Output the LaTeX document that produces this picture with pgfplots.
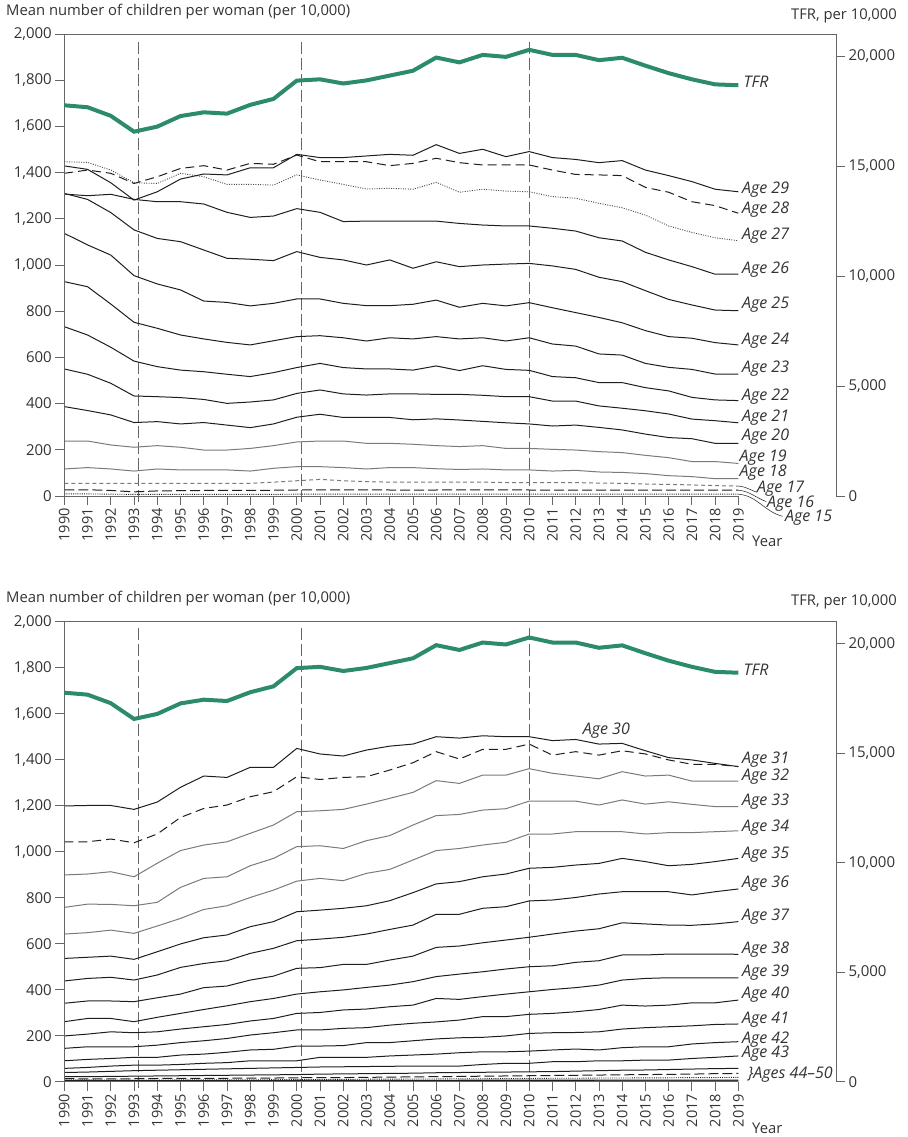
\documentclass[border=0pt]{standalone}
\usepackage{fontspec}
\setmainfont{Open Sans}
\usepackage{pgfplots}
\usepackage{pgfplotstable}
\pgfplotsset{compat=1.18}
\definecolor{tfrgreen}{HTML}{2C8A6D}
\definecolor{txt}{HTML}{333333}
\definecolor{axgray}{HTML}{666666}
\definecolor{lgray}{HTML}{7A7A7A}
\definecolor{ink}{HTML}{1E1E1E}

\pgfplotstableread{
year a15 a16 a17 a18 a19 a20 a21 a22 a23 a24 a25 a26 a27 a28 a29 tfr
1990 9 27 55 117 238 387 550 733 928 1137 1310 1307 1447 1397 1429 17760
1991 9 27 55 123 238 370 527 697 906 1087 1284 1300 1444 1411 1414 17670
1992 8 24 55 117 221 351 488 644 831 1043 1227 1306 1411 1397 1356 17280
1993 7 18 55 108 211 318 433 584 752 954 1152 1284 1356 1353 1281 16560
1994 7 22 55 117 218 322 430 560 726 918 1115 1274 1353 1382 1317 16790
1995 7 23 55 113 211 312 426 545 697 892 1101 1274 1397 1418 1372 17270
1996 7 24 55 113 199 318 418 538 680 844 1065 1264 1382 1430 1394 17440
1997 7 24 55 113 199 307 401 527 665 838 1029 1228 1349 1411 1390 17380
1998 7 24 55 108 206 296 407 517 654 823 1025 1206 1349 1440 1421 17780
1999 7 25 60 120 218 312 416 534 672 834 1019 1212 1346 1436 1421 18050
2000 8 26 66 127 234 341 444 556 690 853 1058 1244 1390 1476 1479 18880
2001 8 26 72 127 238 354 459 574 694 853 1033 1228 1368 1447 1465 18940
2002 8 26 66 123 238 340 442 556 685 834 1022 1188 1349 1447 1465 18750
2003 8 26 62 117 228 340 437 550 671 824 1000 1190 1329 1447 1472 18890
2004 8 26 60 123 228 340 442 550 685 824 1022 1190 1332 1430 1479 19110
2005 8 25 60 123 224 330 442 545 680 830 986 1190 1328 1440 1475 19330
2006 8 26 60 118 218 334 440 563 690 848 1014 1190 1358 1462 1521 19930
2007 8 26 60 115 214 329 440 543 680 817 993 1180 1315 1443 1483 19710
2008 8 26 60 117 218 323 436 564 685 834 1000 1173 1328 1433 1501 20050
2009 8 26 58 113 206 317 430 548 671 823 1004 1169 1320 1433 1469 19960
2010 8 26 58 113 206 312 430 544 685 837 1007 1169 1317 1433 1491 20280
2011 8 25 58 108 202 303 411 517 658 815 996 1159 1296 1411 1465 20050
2012 8 25 58 111 199 307 411 512 649 794 981 1147 1289 1392 1457 20050
2013 8 25 56 104 192 297 390 491 615 773 947 1118 1267 1390 1443 19810
2014 8 25 55 102 188 286 380 491 610 750 928 1104 1248 1387 1452 19920
2015 8 25 52 97 176 268 369 469 574 716 889 1055 1216 1336 1411 19560
2016 8 25 50 88 166 253 355 455 557 690 851 1022 1169 1315 1387 19220
2017 8 25 48 84 149 248 333 427 548 683 827 993 1141 1274 1361 18940
2018 8 25 45 75 149 228 326 416 528 664 805 960 1118 1257 1328 18710
2019 8 25 43 75 141 228 317 413 528 654 802 960 1105 1224 1317 18670
}\toptab

\pgfplotstableread{
year a30 a31 a32 a33 a34 a35 a36 a37 a38 a39 a40 a41 a42 a43 a44 a45 a46 a47 a48 a49 a50 tfr
1990 1199 1043 899 758 642 536 438 341 261 199 145 91 58 40 22 14 8 4 2 1 0 17760
1991 1201 1043 903 772 648 541 449 351 275 207 152 97 62 42 22 12 8 4 2 1 0 17670
1992 1201 1055 913 771 659 546 454 351 275 217 152 101 68 45 23 12 7 4 2 1 0 17280
1993 1184 1039 891 765 645 532 442 348 261 213 152 106 72 48 24 13 7 4 2 1 0 16560
1994 1216 1077 950 780 677 565 464 365 280 217 159 106 72 50 25 14 7 4 2 1 0 16790
1995 1280 1149 1005 845 710 599 497 381 297 229 170 116 75 52 26 14 8 4 2 1 0 17270
1996 1329 1188 1029 884 749 626 514 409 314 239 178 120 80 54 27 15 8 4 2 1 0 17440
1997 1323 1203 1043 891 765 638 526 416 330 249 188 128 83 56 28 15 8 4 2 1 0 17380
1998 1367 1239 1080 939 801 674 558 442 348 264 203 138 91 58 29 16 8 4 2 1 0 17780
1999 1367 1261 1116 971 833 696 580 459 362 275 213 141 91 60 30 16 9 4 2 1 0 18050
2000 1449 1326 1174 1022 872 739 613 493 381 297 225 155 91 62 31 17 9 5 2 1 0 18880
2001 1425 1314 1178 1026 884 746 620 496 391 301 225 155 106 64 33 18 10 5 2 1 0 18940
2002 1416 1323 1184 1014 874 754 628 510 399 312 232 157 106 65 34 18 10 5 2 1 0 18750
2003 1442 1326 1207 1048 906 765 642 510 410 316 235 170 106 66 35 19 11 5 2 1 0 18890
2004 1459 1355 1232 1070 923 787 662 529 420 326 246 170 112 67 36 20 11 5 2 1 0 19110
2005 1468 1387 1258 1116 964 822 681 546 435 333 254 178 116 68 37 21 12 5 2 1 0 19330
2006 1500 1435 1309 1157 1005 860 728 584 457 362 260 186 120 68 39 22 12 5 3 1 0 19930
2007 1494 1403 1297 1162 1014 870 728 590 468 358 268 191 126 68 40 23 13 6 3 1 0 19710
2008 1504 1445 1333 1181 1029 891 754 604 478 370 283 193 130 75 41 24 13 6 3 1 0 20050
2009 1500 1445 1333 1187 1041 903 761 616 490 381 283 199 130 80 42 25 14 6 3 1 0 19960
2010 1500 1468 1361 1220 1077 928 786 628 500 391 293 210 133 80 43 26 14 6 3 1 0 20280
2011 1483 1420 1341 1220 1077 932 790 642 504 401 297 213 138 87 44 27 15 6 3 1 0 20050
2012 1488 1435 1329 1220 1087 942 801 655 519 409 304 214 142 87 46 28 15 6 3 1 0 20050
2013 1468 1420 1317 1203 1087 949 816 665 526 420 314 217 138 91 48 29 16 7 3 1 0 19810
2014 1471 1439 1348 1225 1087 971 826 691 551 442 333 229 148 91 50 30 16 7 3 1 0 19920
2015 1439 1425 1329 1207 1077 957 826 686 551 449 329 235 152 94 51 31 17 7 3 1 0 19560
2016 1409 1399 1333 1217 1083 939 826 681 555 452 333 239 152 94 53 32 17 7 3 1 0 19220
2017 1399 1380 1307 1206 1083 945 812 680 555 452 343 243 164 101 55 33 18 7 3 1 0 18940
2018 1384 1380 1307 1196 1087 957 826 686 555 452 343 249 170 106 57 35 18 7 3 1 0 18710
2019 1370 1370 1307 1196 1091 971 838 696 554 452 355 251 174 112 58 36 19 7 3 1 0 18670
}\bottab

\tikzset{
  bl/.style={ink, line width=1pt},
  gl/.style={lgray, line width=1pt},
  lab/.style={anchor=west, inner sep=0pt, font=\fontsize{16}{18}\selectfont\itshape, text=txt},
  vdash/.style={axgray, line width=0.8pt, dash pattern=on 12pt off 4pt},
}
\pgfplotsset{
  panel/.style={
    width=771.7pt, scale only axis,
    xmin=1990, xmax=2023.2, ymin=0, ymax=2000,
    axis line style={draw=none},
    tick align=outside, major tick length=9pt,
    tick style={axgray, line width=0.7pt},
    xtick={1990,...,2019}, ytick={0,200,...,2000},
    xtick pos=bottom, ytick pos=left,
    /pgf/number format/assume math mode=true,
    x tick label style={/pgf/number format/1000 sep={}, rotate=90, anchor=east, inner sep=3pt,
      font=\fontsize{14.5}{15}\selectfont, text=txt},
    y tick label style={/pgf/number format/1000 sep={,}, font=\fontsize{15}{16}\selectfont, text=txt},
    clip=false,
  },
  rpanel/.style={
    width=771.7pt, scale only axis,
    xmin=1990, xmax=2023.2, ymin=0, ymax=21000,
    axis x line=none, axis y line*=right,
    axis line style={axgray, line width=0.8pt, -},
    tick align=outside, major tick length=9pt,
    tick style={axgray, line width=0.7pt},
    ytick={0,5000,...,20000}, scaled y ticks=false,
    /pgf/number format/assume math mode=true,
    y tick label style={/pgf/number format/1000 sep={,}, font=\fontsize{15}{16}\selectfont, text=txt},
    clip=false,
  },
}

\begin{document}
\begin{tikzpicture}
\path[use as bounding box] (0,0) rectangle (907pt,-1137pt);

% ---------- top panel ----------
\node[anchor=west, inner sep=0, font=\fontsize{14.8}{16}\selectfont, text=txt] at (6pt,-12pt) {Mean number of children per woman (per 10,000)};
\node[anchor=east, inner sep=0, font=\fontsize{14.8}{16}\selectfont, text=txt] at (897pt,-16pt) {TFR, per 10,000};
\node[anchor=west, inner sep=0, font=\fontsize{14.8}{16}\selectfont, text=txt] at (752pt,-541pt) {Year};

\begin{axis}[panel, height=462pt, at={(64.3pt,-496pt)}, anchor=south west]
\draw[vdash] (axis cs:1993.2,-25) -- (axis cs:1993.2,1983);
\draw[vdash] (axis cs:2000.2,-25) -- (axis cs:2000.2,1983);
\draw[vdash] (axis cs:2010,-25) -- (axis cs:2010,1983);
\addplot[ink, line width=0.9pt, dash pattern=on 1pt off 1.2pt] table[x=year,y=a15]{\toptab};
\addplot[ink, line width=1pt, dash pattern=on 10pt off 4pt] table[x=year,y=a16]{\toptab};
\addplot[lgray, line width=1pt, dash pattern=on 4pt off 3pt] table[x=year,y=a17]{\toptab};
\addplot[gl] table[x=year,y=a18]{\toptab};
\addplot[gl] table[x=year,y=a19]{\toptab};
\addplot[bl] table[x=year,y=a20]{\toptab};
\addplot[bl] table[x=year,y=a21]{\toptab};
\addplot[bl] table[x=year,y=a22]{\toptab};
\addplot[bl] table[x=year,y=a23]{\toptab};
\addplot[bl] table[x=year,y=a24]{\toptab};
\addplot[bl] table[x=year,y=a25]{\toptab};
\addplot[bl] table[x=year,y=a26]{\toptab};
\addplot[ink!80, line width=0.9pt, dash pattern=on 1pt off 1.4pt] table[x=year,y=a27]{\toptab};
\addplot[ink, line width=1pt, dash pattern=on 9pt off 5pt] table[x=year,y=a28]{\toptab};
\addplot[bl] table[x=year,y=a29]{\toptab};
\draw[axgray, line width=0.8pt] (rel axis cs:0,0) -- (rel axis cs:0,1) -- (rel axis cs:1,1) -- (rel axis cs:1,0);
\draw[axgray, line width=0.8pt] (axis cs:1990,0) -- (axis cs:2019,0);
\node[lab] at (axis cs:2019.15,1325) {Age 29};
\node[lab] at (axis cs:2019.15,1238) {Age 28};
\node[lab] at (axis cs:2019.15,1126) {Age 27};
\node[lab] at (axis cs:2019.15,978) {Age 26};
\node[lab] at (axis cs:2019.15,827) {Age 25};
\node[lab] at (axis cs:2019.15,671) {Age 24};
\node[lab] at (axis cs:2019.15,550) {Age 23};
\node[lab] at (axis cs:2019.15,429) {Age 22};
\node[lab] at (axis cs:2019.15,338) {Age 21};
\node[lab] at (axis cs:2019.15,255) {Age 20};
\node[lab] at (axis cs:2019.05,167) {Age 19};
\node[lab] at (axis cs:2019.05,102) {Age 18};
\draw[ink, line width=0.5pt] (axis cs:2019,43) to[out=-5,in=160] (axis cs:2019.8,16);
\draw[ink, line width=0.5pt] (axis cs:2019,25) to[out=-5,in=160] (axis cs:2020.2,-24);
\draw[ink, line width=0.5pt] (axis cs:2019,8) to[out=-5,in=165] (axis cs:2020.9,-88);
\node[lab] at (axis cs:2019.8,33) {Age 17};
\node[lab] at (axis cs:2020.23,-31) {Age 16};
\node[lab] at (axis cs:2021.0,-95) {Age 15};
\end{axis}

\begin{axis}[rpanel, height=462pt, at={(64.3pt,-496pt)}, anchor=south west]
\addplot[tfrgreen, line width=4pt] table[x=year,y=tfr]{\toptab};
\node[lab] at (axis cs:2019.22,18820) {TFR};
\end{axis}

% ---------- bottom panel ----------
\node[anchor=west, inner sep=0, font=\fontsize{14.8}{16}\selectfont, text=txt] at (6pt,-599pt) {Mean number of children per woman (per 10,000)};
\node[anchor=east, inner sep=0, font=\fontsize{14.8}{16}\selectfont, text=txt] at (897pt,-602pt) {TFR, per 10,000};
\node[anchor=west, inner sep=0, font=\fontsize{14.8}{16}\selectfont, text=txt] at (752pt,-1128pt) {Year};

\begin{axis}[panel, height=460pt, at={(64.3pt,-1081.7pt)}, anchor=south west]
\draw[vdash] (axis cs:1993.2,-28) -- (axis cs:1993.2,1986);
\draw[vdash] (axis cs:2000.2,-28) -- (axis cs:2000.2,1986);
\draw[vdash] (axis cs:2010,-28) -- (axis cs:2010,1986);
\addplot[ink, line width=1.2pt] table[x=year,y=a50]{\bottab};
\addplot[ink, line width=1.2pt] table[x=year,y=a49]{\bottab};
\addplot[ink, line width=1.2pt] table[x=year,y=a48]{\bottab};
\addplot[ink, line width=1.2pt] table[x=year,y=a47]{\bottab};
\addplot[ink, line width=0.9pt, dash pattern=on 1pt off 1.2pt] table[x=year,y=a46]{\bottab};
\addplot[ink, line width=1pt, dash pattern=on 10pt off 4pt] table[x=year,y=a45]{\bottab};
\addplot[bl] table[x=year,y=a44]{\bottab};
\addplot[bl] table[x=year,y=a43]{\bottab};
\addplot[bl] table[x=year,y=a42]{\bottab};
\addplot[bl] table[x=year,y=a41]{\bottab};
\addplot[bl] table[x=year,y=a40]{\bottab};
\addplot[bl] table[x=year,y=a39]{\bottab};
\addplot[bl] table[x=year,y=a38]{\bottab};
\addplot[bl] table[x=year,y=a37]{\bottab};
\addplot[bl] table[x=year,y=a36]{\bottab};
\addplot[bl] table[x=year,y=a35]{\bottab};
\addplot[gl] table[x=year,y=a34]{\bottab};
\addplot[gl] table[x=year,y=a33]{\bottab};
\addplot[gl] table[x=year,y=a32]{\bottab};
\addplot[ink, line width=1pt, dash pattern=on 9pt off 5pt] table[x=year,y=a31]{\bottab};
\addplot[bl] table[x=year,y=a30]{\bottab};
\draw[axgray, line width=0.8pt] (rel axis cs:0,0) -- (rel axis cs:0,1) -- (rel axis cs:1,1) -- (rel axis cs:1,0);
\draw[axgray, line width=0.8pt] (axis cs:1990,0) -- (axis cs:2019,0);
\node[lab, anchor=south west] at (axis cs:2012.3,1490) {Age 30};
\node[lab] at (axis cs:2019.15,1399) {Age 31};
\node[lab] at (axis cs:2019.15,1325) {Age 32};
\node[lab] at (axis cs:2019.15,1216) {Age 33};
\node[lab] at (axis cs:2019.15,1103) {Age 34};
\node[lab] at (axis cs:2019.15,986) {Age 35};
\node[lab] at (axis cs:2019.15,860) {Age 36};
\node[lab] at (axis cs:2019.15,716) {Age 37};
\node[lab] at (axis cs:2019.15,573) {Age 38};
\node[lab] at (axis cs:2019.15,473) {Age 39};
\node[lab] at (axis cs:2019.15,377) {Age 40};
\node[lab] at (axis cs:2019.15,268) {Age 41};
\node[lab] at (axis cs:2019.15,185) {Age 42};
\node[lab] at (axis cs:2019.15,120) {Age 43};
\node[lab] at (axis cs:2019.4,33) {\}Ages 44--50};
\end{axis}

\begin{axis}[rpanel, height=460pt, at={(64.3pt,-1081.7pt)}, anchor=south west]
\addplot[tfrgreen, line width=4pt] table[x=year,y=tfr]{\bottab};
\node[lab] at (axis cs:2019.22,18800) {TFR};
\end{axis}
\end{tikzpicture}
\end{document}
